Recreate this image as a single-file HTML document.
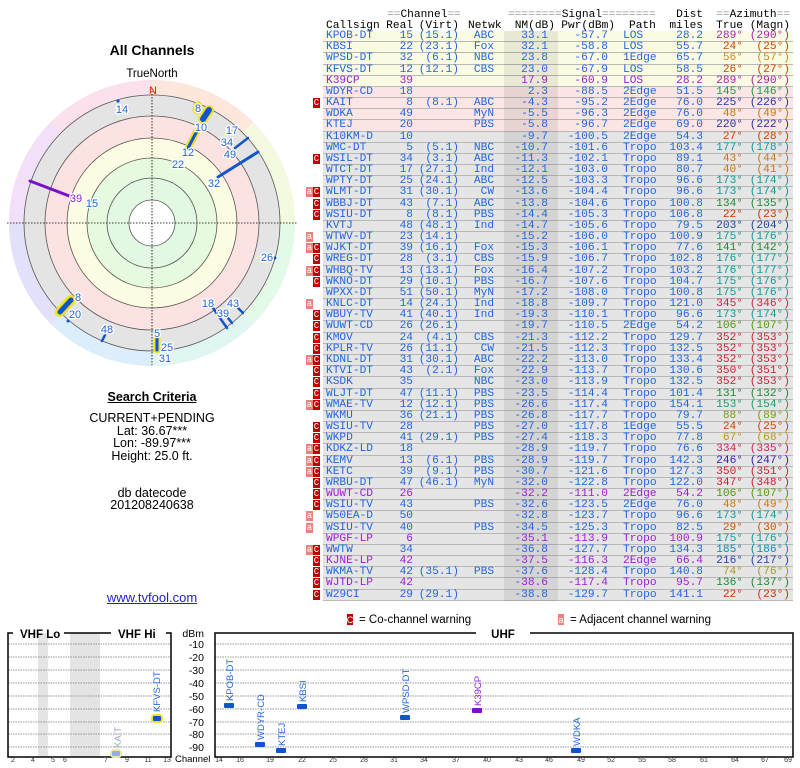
<!DOCTYPE html>
<html><head><meta charset="utf-8"><style>
body{margin:0;width:800px;height:768px;background:#fff;position:relative;overflow:hidden;font-family:"Liberation Sans",sans-serif}
.ab{position:absolute}
#tb{position:absolute;left:0;top:31px;width:800px;font-family:"Liberation Mono",monospace;font-size:11.2px;color:#2266dd}
.r{position:relative;height:11.18px;line-height:11.18px}
.r:before{content:"";position:absolute;left:323px;width:470px;top:0;height:10.18px;background:#e5e5e5;border-bottom:1px solid #b8b8b8}
.r:after{content:"";position:absolute;left:504px;width:54px;top:0;height:11.18px;background:rgba(0,0,0,0.07)}
.r.y:before{background:#fbfbe4}
.r.k:before{background:#fbe5e5}
.r span{position:absolute;top:0;white-space:pre;z-index:1}
.cs{left:326px}.re{right:387px}.vi{right:341px}.nw{left:466px;width:36px;text-align:center}
.nm{right:252px}.pw{right:192px}.pa{left:623px}.di{right:97px}.tr{right:57px}.mg{right:10px}
.r .C{left:313px;width:7px;height:10px;background:#c00000;color:#fff;font-size:9px;line-height:10px;text-align:center}
.r .A{left:306px;width:7px;height:10px;background:#f08080;color:#fff;font-size:9px;line-height:10px;text-align:center}
.p,.p span{color:#9a1fd6}
.hd{position:absolute;font-family:"Liberation Mono",monospace;font-size:11.2px;white-space:pre;color:#000;line-height:12px}
.hd i{color:#999;font-style:normal}
.ctr{position:absolute;left:0;width:304px;text-align:center;font-size:12.5px;color:#000}
</style></head><body>

<div class="hd" style="left:387px;top:9px"><i>==</i>Channel<i>==</i></div>
<div class="hd" style="left:508px;top:9px"><i>========</i>Signal<i>========</i></div>
<div class="hd" style="right:97px;top:9px">Dist</div>
<div class="hd" style="right:10px;top:9px"><i>==</i>Azimuth<i>==</i></div>
<div class="hd" style="left:326px;top:20px">Callsign</div>
<div class="hd" style="right:387px;top:20px">Real</div>
<div class="hd" style="right:341px;top:20px">(Virt)</div>
<div class="hd" style="left:468px;top:20px">Netwk</div>
<div class="hd" style="right:245px;top:20px">NM(dB)</div>
<div class="hd" style="right:185px;top:20px">Pwr(dBm)</div>
<div class="hd" style="left:629px;top:20px">Path</div>
<div class="hd" style="right:97px;top:20px">miles</div>
<div class="hd" style="right:57px;top:20px">True</div>
<div class="hd" style="right:10px;top:20px">(Magn)</div>

<div id="tb">
<div class="r y"><span class="cs">KPOB-DT</span><span class="re">15</span><span class="vi">(15.1)</span><span class="nw">ABC</span><span class="nm">33.1</span><span class="pw">-57.7</span><span class="pa">LOS</span><span class="di">28.2</span><span class="tr" style="color:#aa22aa">289°</span><span class="mg" style="color:#aa22aa">(290°)</span></div>
<div class="r y"><span class="cs">KBSI</span><span class="re">22</span><span class="vi">(23.1)</span><span class="nw">Fox</span><span class="nm">32.1</span><span class="pw">-58.8</span><span class="pa">LOS</span><span class="di">55.7</span><span class="tr" style="color:#cc4400">24°</span><span class="mg" style="color:#cc4400">(25°)</span></div>
<div class="r y"><span class="cs">WPSD-DT</span><span class="re">32</span><span class="vi">(6.1)</span><span class="nw">NBC</span><span class="nm">23.8</span><span class="pw">-67.0</span><span class="pa">1Edge</span><span class="di">65.7</span><span class="tr" style="color:#cc8822">56°</span><span class="mg" style="color:#cc8822">(57°)</span></div>
<div class="r y"><span class="cs">KFVS-DT</span><span class="re">12</span><span class="vi">(12.1)</span><span class="nw">CBS</span><span class="nm">23.0</span><span class="pw">-67.9</span><span class="pa">LOS</span><span class="di">58.5</span><span class="tr" style="color:#cc4400">26°</span><span class="mg" style="color:#cc4400">(27°)</span></div>
<div class="r y p"><span class="cs">K39CP</span><span class="re">39</span><span class="nm">17.9</span><span class="pw">-60.9</span><span class="pa">LOS</span><span class="di">28.2</span><span class="tr" style="color:#aa22aa">289°</span><span class="mg" style="color:#aa22aa">(290°)</span></div>
<div class="r k"><span class="cs">WDYR-CD</span><span class="re">18</span><span class="nm">2.3</span><span class="pw">-88.5</span><span class="pa">2Edge</span><span class="di">51.5</span><span class="tr" style="color:#229944">145°</span><span class="mg" style="color:#229944">(146°)</span></div>
<div class="r k"><span class="C">C</span><span class="cs">KAIT</span><span class="re">8</span><span class="vi">(8.1)</span><span class="nw">ABC</span><span class="nm">-4.3</span><span class="pw">-95.2</span><span class="pa">2Edge</span><span class="di">76.0</span><span class="tr" style="color:#2233aa">225°</span><span class="mg" style="color:#2233aa">(226°)</span></div>
<div class="r k"><span class="cs">WDKA</span><span class="re">49</span><span class="nw">MyN</span><span class="nm">-5.5</span><span class="pw">-96.3</span><span class="pa">2Edge</span><span class="di">76.0</span><span class="tr" style="color:#cc7711">48°</span><span class="mg" style="color:#cc7711">(49°)</span></div>
<div class="r k"><span class="cs">KTEJ</span><span class="re">20</span><span class="nw">PBS</span><span class="nm">-5.8</span><span class="pw">-96.7</span><span class="pa">2Edge</span><span class="di">69.0</span><span class="tr" style="color:#223399">220°</span><span class="mg" style="color:#223399">(222°)</span></div>
<div class="r"><span class="cs">K10KM-D</span><span class="re">10</span><span class="nm">-9.7</span><span class="pw">-100.5</span><span class="pa">2Edge</span><span class="di">54.3</span><span class="tr" style="color:#cc4400">27°</span><span class="mg" style="color:#cc4400">(28°)</span></div>
<div class="r"><span class="cs">WMC-DT</span><span class="re">5</span><span class="vi">(5.1)</span><span class="nw">NBC</span><span class="nm">-10.7</span><span class="pw">-101.6</span><span class="pa">Tropo</span><span class="di">103.4</span><span class="tr" style="color:#119999">177°</span><span class="mg" style="color:#119999">(178°)</span></div>
<div class="r"><span class="C">C</span><span class="cs">WSIL-DT</span><span class="re">34</span><span class="vi">(3.1)</span><span class="nw">ABC</span><span class="nm">-11.3</span><span class="pw">-102.1</span><span class="pa">Tropo</span><span class="di">89.1</span><span class="tr" style="color:#cc7711">43°</span><span class="mg" style="color:#cc7711">(44°)</span></div>
<div class="r"><span class="cs">WTCT-DT</span><span class="re">17</span><span class="vi">(27.1)</span><span class="nw">Ind</span><span class="nm">-12.1</span><span class="pw">-103.0</span><span class="pa">Tropo</span><span class="di">80.7</span><span class="tr" style="color:#cc7711">40°</span><span class="mg" style="color:#cc7711">(41°)</span></div>
<div class="r"><span class="cs">WPTY-DT</span><span class="re">25</span><span class="vi">(24.1)</span><span class="nw">ABC</span><span class="nm">-12.5</span><span class="pw">-103.3</span><span class="pa">Tropo</span><span class="di">96.6</span><span class="tr" style="color:#119999">173°</span><span class="mg" style="color:#119999">(174°)</span></div>
<div class="r"><span class="A">a</span><span class="C">C</span><span class="cs">WLMT-DT</span><span class="re">31</span><span class="vi">(30.1)</span><span class="nw">&nbsp;CW</span><span class="nm">-13.6</span><span class="pw">-104.4</span><span class="pa">Tropo</span><span class="di">96.6</span><span class="tr" style="color:#119999">173°</span><span class="mg" style="color:#119999">(174°)</span></div>
<div class="r"><span class="C">C</span><span class="cs">WBBJ-DT</span><span class="re">43</span><span class="vi">(7.1)</span><span class="nw">ABC</span><span class="nm">-13.8</span><span class="pw">-104.6</span><span class="pa">Tropo</span><span class="di">100.8</span><span class="tr" style="color:#228833">134°</span><span class="mg" style="color:#228833">(135°)</span></div>
<div class="r"><span class="C">C</span><span class="cs">WSIU-DT</span><span class="re">8</span><span class="vi">(8.1)</span><span class="nw">PBS</span><span class="nm">-14.4</span><span class="pw">-105.3</span><span class="pa">Tropo</span><span class="di">106.8</span><span class="tr" style="color:#cc3300">22°</span><span class="mg" style="color:#cc3300">(23°)</span></div>
<div class="r"><span class="cs">KVTJ</span><span class="re">48</span><span class="vi">(48.1)</span><span class="nw">Ind</span><span class="nm">-14.7</span><span class="pw">-105.6</span><span class="pa">Tropo</span><span class="di">79.5</span><span class="tr" style="color:#224499">203°</span><span class="mg" style="color:#224499">(204°)</span></div>
<div class="r"><span class="A">a</span><span class="cs">WTWV-DT</span><span class="re">23</span><span class="vi">(14.1)</span><span class="nm">-15.2</span><span class="pw">-106.0</span><span class="pa">Tropo</span><span class="di">100.9</span><span class="tr" style="color:#119999">175°</span><span class="mg" style="color:#119999">(176°)</span></div>
<div class="r"><span class="A">a</span><span class="C">C</span><span class="cs">WJKT-DT</span><span class="re">39</span><span class="vi">(16.1)</span><span class="nw">Fox</span><span class="nm">-15.3</span><span class="pw">-106.1</span><span class="pa">Tropo</span><span class="di">77.6</span><span class="tr" style="color:#228833">141°</span><span class="mg" style="color:#228833">(142°)</span></div>
<div class="r"><span class="C">C</span><span class="cs">WREG-DT</span><span class="re">28</span><span class="vi">(3.1)</span><span class="nw">CBS</span><span class="nm">-15.9</span><span class="pw">-106.7</span><span class="pa">Tropo</span><span class="di">102.8</span><span class="tr" style="color:#119999">176°</span><span class="mg" style="color:#119999">(177°)</span></div>
<div class="r"><span class="A">a</span><span class="C">C</span><span class="cs">WHBQ-TV</span><span class="re">13</span><span class="vi">(13.1)</span><span class="nw">Fox</span><span class="nm">-16.4</span><span class="pw">-107.2</span><span class="pa">Tropo</span><span class="di">103.2</span><span class="tr" style="color:#119999">176°</span><span class="mg" style="color:#119999">(177°)</span></div>
<div class="r"><span class="C">C</span><span class="cs">WKNO-DT</span><span class="re">29</span><span class="vi">(10.1)</span><span class="nw">PBS</span><span class="nm">-16.7</span><span class="pw">-107.6</span><span class="pa">Tropo</span><span class="di">104.7</span><span class="tr" style="color:#119999">175°</span><span class="mg" style="color:#119999">(176°)</span></div>
<div class="r"><span class="cs">WPXX-DT</span><span class="re">51</span><span class="vi">(50.1)</span><span class="nw">MyN</span><span class="nm">-17.2</span><span class="pw">-108.0</span><span class="pa">Tropo</span><span class="di">100.8</span><span class="tr" style="color:#119999">175°</span><span class="mg" style="color:#119999">(176°)</span></div>
<div class="r"><span class="A">a</span><span class="cs">KNLC-DT</span><span class="re">14</span><span class="vi">(24.1)</span><span class="nw">Ind</span><span class="nm">-18.8</span><span class="pw">-109.7</span><span class="pa">Tropo</span><span class="di">121.0</span><span class="tr" style="color:#cc2244">345°</span><span class="mg" style="color:#cc2244">(346°)</span></div>
<div class="r"><span class="C">C</span><span class="cs">WBUY-TV</span><span class="re">41</span><span class="vi">(40.1)</span><span class="nw">Ind</span><span class="nm">-19.3</span><span class="pw">-110.1</span><span class="pa">Tropo</span><span class="di">96.6</span><span class="tr" style="color:#119999">173°</span><span class="mg" style="color:#119999">(174°)</span></div>
<div class="r"><span class="C">C</span><span class="cs">WUWT-CD</span><span class="re">26</span><span class="vi">(26.1)</span><span class="nm">-19.7</span><span class="pw">-110.5</span><span class="pa">2Edge</span><span class="di">54.2</span><span class="tr" style="color:#559911">106°</span><span class="mg" style="color:#559911">(107°)</span></div>
<div class="r"><span class="C">C</span><span class="cs">KMOV</span><span class="re">24</span><span class="vi">(4.1)</span><span class="nw">CBS</span><span class="nm">-21.3</span><span class="pw">-112.2</span><span class="pa">Tropo</span><span class="di">129.7</span><span class="tr" style="color:#cc2233">352°</span><span class="mg" style="color:#cc2233">(353°)</span></div>
<div class="r"><span class="C">C</span><span class="cs">KPLR-TV</span><span class="re">26</span><span class="vi">(11.1)</span><span class="nw">&nbsp;CW</span><span class="nm">-21.5</span><span class="pw">-112.3</span><span class="pa">Tropo</span><span class="di">132.5</span><span class="tr" style="color:#cc2233">352°</span><span class="mg" style="color:#cc2233">(353°)</span></div>
<div class="r"><span class="A">a</span><span class="C">C</span><span class="cs">KDNL-DT</span><span class="re">31</span><span class="vi">(30.1)</span><span class="nw">ABC</span><span class="nm">-22.2</span><span class="pw">-113.0</span><span class="pa">Tropo</span><span class="di">133.4</span><span class="tr" style="color:#cc2233">352°</span><span class="mg" style="color:#cc2233">(353°)</span></div>
<div class="r"><span class="C">C</span><span class="cs">KTVI-DT</span><span class="re">43</span><span class="vi">(2.1)</span><span class="nw">Fox</span><span class="nm">-22.9</span><span class="pw">-113.7</span><span class="pa">Tropo</span><span class="di">130.6</span><span class="tr" style="color:#cc2233">350°</span><span class="mg" style="color:#cc2233">(351°)</span></div>
<div class="r"><span class="C">C</span><span class="cs">KSDK</span><span class="re">35</span><span class="nw">NBC</span><span class="nm">-23.0</span><span class="pw">-113.9</span><span class="pa">Tropo</span><span class="di">132.5</span><span class="tr" style="color:#cc2233">352°</span><span class="mg" style="color:#cc2233">(353°)</span></div>
<div class="r"><span class="C">C</span><span class="cs">WLJT-DT</span><span class="re">47</span><span class="vi">(11.1)</span><span class="nw">PBS</span><span class="nm">-23.5</span><span class="pw">-114.4</span><span class="pa">Tropo</span><span class="di">101.4</span><span class="tr" style="color:#228833">131°</span><span class="mg" style="color:#228833">(132°)</span></div>
<div class="r"><span class="A">a</span><span class="C">C</span><span class="cs">WMAE-TV</span><span class="re">12</span><span class="vi">(12.1)</span><span class="nw">PBS</span><span class="nm">-26.6</span><span class="pw">-117.4</span><span class="pa">Tropo</span><span class="di">154.1</span><span class="tr" style="color:#229966">153°</span><span class="mg" style="color:#229966">(154°)</span></div>
<div class="r"><span class="cs">WKMU</span><span class="re">36</span><span class="vi">(21.1)</span><span class="nw">PBS</span><span class="nm">-26.8</span><span class="pw">-117.7</span><span class="pa">Tropo</span><span class="di">79.7</span><span class="tr" style="color:#779911">88°</span><span class="mg" style="color:#779911">(89°)</span></div>
<div class="r"><span class="C">C</span><span class="cs">WSIU-TV</span><span class="re">28</span><span class="nw">PBS</span><span class="nm">-27.0</span><span class="pw">-117.8</span><span class="pa">1Edge</span><span class="di">55.5</span><span class="tr" style="color:#cc4400">24°</span><span class="mg" style="color:#cc4400">(25°)</span></div>
<div class="r"><span class="C">C</span><span class="cs">WKPD</span><span class="re">41</span><span class="vi">(29.1)</span><span class="nw">PBS</span><span class="nm">-27.4</span><span class="pw">-118.3</span><span class="pa">Tropo</span><span class="di">77.8</span><span class="tr" style="color:#bb9911">67°</span><span class="mg" style="color:#bb9911">(68°)</span></div>
<div class="r"><span class="A">a</span><span class="C">C</span><span class="cs">KDKZ-LD</span><span class="re">18</span><span class="nm">-28.9</span><span class="pw">-119.7</span><span class="pa">Tropo</span><span class="di">76.6</span><span class="tr" style="color:#cc2255">334°</span><span class="mg" style="color:#cc2255">(335°)</span></div>
<div class="r"><span class="A">a</span><span class="C">C</span><span class="cs">KEMV</span><span class="re">13</span><span class="vi">(6.1)</span><span class="nw">PBS</span><span class="nm">-28.9</span><span class="pw">-119.7</span><span class="pa">Tropo</span><span class="di">142.3</span><span class="tr" style="color:#3322aa">246°</span><span class="mg" style="color:#3322aa">(247°)</span></div>
<div class="r"><span class="A">a</span><span class="C">C</span><span class="cs">KETC</span><span class="re">39</span><span class="vi">(9.1)</span><span class="nw">PBS</span><span class="nm">-30.7</span><span class="pw">-121.6</span><span class="pa">Tropo</span><span class="di">127.3</span><span class="tr" style="color:#cc2233">350°</span><span class="mg" style="color:#cc2233">(351°)</span></div>
<div class="r"><span class="C">C</span><span class="cs">WRBU-DT</span><span class="re">47</span><span class="vi">(46.1)</span><span class="nw">MyN</span><span class="nm">-32.0</span><span class="pw">-122.8</span><span class="pa">Tropo</span><span class="di">122.0</span><span class="tr" style="color:#cc2233">347°</span><span class="mg" style="color:#cc2233">(348°)</span></div>
<div class="r p"><span class="C">C</span><span class="cs">WUWT-CD</span><span class="re">26</span><span class="nm">-32.2</span><span class="pw">-111.0</span><span class="pa">2Edge</span><span class="di">54.2</span><span class="tr" style="color:#559911">106°</span><span class="mg" style="color:#559911">(107°)</span></div>
<div class="r"><span class="C">C</span><span class="cs">WSIU-TV</span><span class="re">43</span><span class="nw">PBS</span><span class="nm">-32.6</span><span class="pw">-123.5</span><span class="pa">2Edge</span><span class="di">76.0</span><span class="tr" style="color:#cc7711">48°</span><span class="mg" style="color:#cc7711">(49°)</span></div>
<div class="r"><span class="A">a</span><span class="cs">W50EA-D</span><span class="re">50</span><span class="nm">-32.8</span><span class="pw">-123.7</span><span class="pa">Tropo</span><span class="di">96.6</span><span class="tr" style="color:#119999">173°</span><span class="mg" style="color:#119999">(174°)</span></div>
<div class="r"><span class="A">a</span><span class="cs">WSIU-TV</span><span class="re">40</span><span class="nw">PBS</span><span class="nm">-34.5</span><span class="pw">-125.3</span><span class="pa">Tropo</span><span class="di">82.5</span><span class="tr" style="color:#cc5500">29°</span><span class="mg" style="color:#cc5500">(30°)</span></div>
<div class="r p"><span class="cs">WPGF-LP</span><span class="re">6</span><span class="nm">-35.1</span><span class="pw">-113.9</span><span class="pa">Tropo</span><span class="di">100.9</span><span class="tr" style="color:#119999">175°</span><span class="mg" style="color:#119999">(176°)</span></div>
<div class="r"><span class="A">a</span><span class="C">C</span><span class="cs">WWTW</span><span class="re">34</span><span class="nm">-36.8</span><span class="pw">-127.7</span><span class="pa">Tropo</span><span class="di">134.3</span><span class="tr" style="color:#1188aa">185°</span><span class="mg" style="color:#1188aa">(186°)</span></div>
<div class="r p"><span class="C">C</span><span class="cs">KJNE-LP</span><span class="re">42</span><span class="nm">-37.5</span><span class="pw">-116.3</span><span class="pa">2Edge</span><span class="di">66.4</span><span class="tr" style="color:#2244aa">216°</span><span class="mg" style="color:#2244aa">(217°)</span></div>
<div class="r"><span class="C">C</span><span class="cs">WKMA-TV</span><span class="re">42</span><span class="vi">(35.1)</span><span class="nw">PBS</span><span class="nm">-37.6</span><span class="pw">-128.4</span><span class="pa">Tropo</span><span class="di">140.8</span><span class="tr" style="color:#aa9922">74°</span><span class="mg" style="color:#aa9922">(76°)</span></div>
<div class="r p"><span class="C">C</span><span class="cs">WJTD-LP</span><span class="re">42</span><span class="nm">-38.6</span><span class="pw">-117.4</span><span class="pa">Tropo</span><span class="di">95.7</span><span class="tr" style="color:#228833">136°</span><span class="mg" style="color:#228833">(137°)</span></div>
<div class="r"><span class="C">C</span><span class="cs">W29CI</span><span class="re">29</span><span class="vi">(29.1)</span><span class="nm">-38.8</span><span class="pw">-129.7</span><span class="pa">Tropo</span><span class="di">141.1</span><span class="tr" style="color:#cc3300">22°</span><span class="mg" style="color:#cc3300">(23°)</span></div>
</div>

<div class="ctr" style="top:42px;font-weight:bold;font-size:14px">All Channels</div>
<div class="ctr" style="top:68px;font-size:11.5px">TrueNorth</div>

<svg class="ab" style="left:0;top:0" width="310" height="380" font-family="Liberation Sans, sans-serif">
<g>
<circle cx="152" cy="223" r="143" fill="#f4e4f4"/>
<path d="M152 223 L152 80 A143 143 0 0 1 253 122 Z" fill="#fde6dc"/>
<path d="M152 223 L253 122 A143 143 0 0 1 295 223 Z" fill="#f4fae0"/>
<path d="M152 223 L295 223 A143 143 0 0 1 253 324 Z" fill="#e2fae6"/>
<path d="M152 223 L253 324 A143 143 0 0 1 152 366 Z" fill="#e0f6f2"/>
<path d="M152 223 L152 366 A143 143 0 0 1 51 324 Z" fill="#dceefc"/>
<path d="M152 223 L51 324 A143 143 0 0 1 9 223 Z" fill="#e2e0fa"/>
<path d="M152 223 L9 223 A143 143 0 0 1 51 122 Z" fill="#f2e0f8"/>
<path d="M152 223 L51 122 A143 143 0 0 1 152 80 Z" fill="#fce0ec"/>
</g>
<circle cx="152" cy="223" r="128" fill="#e4e4e4" stroke="#555" stroke-width="0.8"/>
<circle cx="152" cy="223" r="107" fill="#fde2e2" stroke="#555" stroke-width="0.8"/>
<circle cx="152" cy="223" r="85" fill="#fcfce2" stroke="#555" stroke-width="0.8"/>
<circle cx="152" cy="223" r="65" fill="#e6fae0" stroke="#555" stroke-width="0.8"/>
<circle cx="152" cy="223" r="45" fill="#e2f8e2" stroke="#555" stroke-width="0.8"/>
<circle cx="152" cy="223" r="23" fill="#fff" stroke="#555" stroke-width="0.8"/>
<line x1="7" y1="223" x2="297" y2="223" stroke="#000" stroke-dasharray="1.5,1.5" stroke-width="0.8"/>
<line x1="152" y1="88" x2="152" y2="365" stroke="#000" stroke-dasharray="1.5,1.5" stroke-width="0.8"/>
<text x="153" y="94" fill="#dd2200" font-size="11" text-anchor="middle">N</text>
<g stroke-linecap="round">
<line x1="198" y1="106" x2="197" y2="110" stroke="#f0e020" stroke-width="9"/>
<line x1="209" y1="110" x2="203" y2="119" stroke="#f0e020" stroke-width="10"/>
<line x1="209" y1="110" x2="203" y2="119" stroke="#1155cc" stroke-width="6"/>
<line x1="197" y1="131" x2="188" y2="148" stroke="#f0e020" stroke-width="7"/>
<line x1="197" y1="131" x2="188" y2="148" stroke="#1155cc" stroke-width="3"/>
<line x1="235" y1="148" x2="248" y2="138" stroke="#1155cc" stroke-width="2.5"/>
<line x1="218" y1="177" x2="258" y2="152" stroke="#1155cc" stroke-width="3"/>
<line x1="30" y1="181" x2="72" y2="197" stroke="#7a10cc" stroke-width="3"/>
<line x1="213" y1="308" x2="227" y2="328" stroke="#1155cc" stroke-width="2.5"/>
<line x1="238" y1="308" x2="243" y2="313" stroke="#1155cc" stroke-width="2.5"/>
<line x1="228" y1="318" x2="232" y2="323" stroke="#1155cc" stroke-width="2.5"/>
<line x1="71" y1="300" x2="60" y2="312" stroke="#f0e020" stroke-width="10"/>
<line x1="71" y1="300" x2="60" y2="312" stroke="#1155cc" stroke-width="5"/>
<line x1="105" y1="335" x2="102" y2="341" stroke="#1155cc" stroke-width="2.5"/>
<line x1="157" y1="338" x2="157" y2="350" stroke="#f0e020" stroke-width="7"/>
<line x1="157" y1="338" x2="157" y2="350" stroke="#1155cc" stroke-width="3"/>
<circle cx="118" cy="101" r="1.6" fill="#1155cc"/>
<circle cx="275" cy="258" r="1.5" fill="#1155cc"/>
<circle cx="68" cy="321" r="1.5" fill="#1155cc"/>
</g>
<g font-size="11" fill="#2266dd" text-anchor="middle" stroke="#fff" stroke-width="2.5" paint-order="stroke">
<text x="122" y="113">14</text><text x="198" y="112">8</text><text x="201" y="131">10</text>
<text x="188" y="156">12</text><text x="178" y="168">22</text><text x="232" y="134">17</text>
<text x="227" y="146">34</text><text x="230" y="158">49</text><text x="214" y="187">32</text>
<text x="76" y="202" fill="#8a1fd6">39</text><text x="92" y="207">15</text><text x="267" y="261">26</text>
<text x="208" y="307">18</text><text x="233" y="307">43</text><text x="223" y="317">39</text>
<text x="78" y="301">8</text><text x="75" y="318">20</text><text x="107" y="333">48</text>
<text x="157" y="337">5</text><text x="167" y="351">25</text><text x="165" y="362">31</text>
</g>
</svg>

<div class="ctr" style="top:390px;font-weight:bold;text-decoration:underline;font-size:12.5px">Search Criteria</div>
<div class="ctr" style="top:411px">CURRENT+PENDING</div>
<div class="ctr" style="top:424px">Lat: 36.67***</div>
<div class="ctr" style="top:436px">Lon: -89.97***</div>
<div class="ctr" style="top:449px">Height: 25.0 ft.</div>
<div class="ctr" style="top:486px">db datecode</div>
<div class="ctr" style="top:498px">201208240638</div>
<div class="ctr" style="top:590px;color:#2222cc;text-decoration:underline;font-size:13px">www.tvfool.com</div>

<svg class="ab" style="left:0;top:610px" width="800" height="158" font-family="Liberation Sans, sans-serif">
<rect x="347" y="4" width="6" height="11" fill="#c00000"/><text x="350" y="13" font-size="9" fill="#fff" text-anchor="middle">C</text>
<text x="359" y="13" font-size="11.5" fill="#000">= Co-channel warning</text>
<rect x="558" y="4" width="6" height="11" fill="#f08080"/><text x="561" y="13" font-size="9" fill="#fff" text-anchor="middle">a</text>
<text x="570" y="13" font-size="11.5" fill="#000">= Adjacent channel warning</text>
<rect x="38" y="23" width="10" height="124" fill="#e4e4e4"/>
<rect x="70" y="23" width="30" height="124" fill="#e4e4e4"/>
<g stroke="#777" stroke-dasharray="1.5,1" stroke-width="0.8">
<line x1="8" y1="34" x2="171" y2="34"/><line x1="8" y1="47" x2="171" y2="47"/><line x1="8" y1="60" x2="171" y2="60"/><line x1="8" y1="73" x2="171" y2="73"/><line x1="8" y1="86" x2="171" y2="86"/><line x1="8" y1="99" x2="171" y2="99"/><line x1="8" y1="112" x2="171" y2="112"/><line x1="8" y1="124" x2="171" y2="124"/><line x1="8" y1="137" x2="171" y2="137"/>
<line x1="215" y1="34" x2="793" y2="34"/><line x1="215" y1="47" x2="793" y2="47"/><line x1="215" y1="60" x2="793" y2="60"/><line x1="215" y1="73" x2="793" y2="73"/><line x1="215" y1="86" x2="793" y2="86"/><line x1="215" y1="99" x2="793" y2="99"/><line x1="215" y1="112" x2="793" y2="112"/><line x1="215" y1="124" x2="793" y2="124"/><line x1="215" y1="137" x2="793" y2="137"/>
</g>
<g fill="none" stroke="#000" stroke-width="1.5">
<polyline points="13,23 8,23 8,147 171,147 171,23 166,23"/>
<line x1="64" y1="23" x2="111" y2="23"/>
<polyline points="476,23 215,23 215,147 793,147 793,23 530,23"/>
</g>
<text x="20" y="28" font-size="11.5" font-weight="bold">VHF Lo</text>
<text x="118" y="28" font-size="11.5" font-weight="bold">VHF Hi</text>
<text x="503" y="28" font-size="11.5" font-weight="bold" text-anchor="middle">UHF</text>
<g font-size="10.5" text-anchor="end" fill="#000">
<text x="204" y="27">dBm</text><text x="204" y="38">-10</text><text x="204" y="51">-20</text><text x="204" y="64">-30</text><text x="204" y="77">-40</text><text x="204" y="90">-50</text><text x="204" y="103">-60</text><text x="204" y="116">-70</text><text x="204" y="128">-80</text><text x="204" y="141">-90</text>
</g>
<text x="175" y="152" font-size="9.5">Channel</text>
<g font-size="7" text-anchor="middle" fill="#333">
<text x="13" y="152">2</text><text x="33" y="152">4</text><text x="53" y="152">5</text><text x="65" y="152">6</text><text x="106" y="152">7</text><text x="127" y="152">9</text><text x="148" y="152">11</text><text x="167" y="152">13</text>
<text x="219" y="152">14</text><text x="240" y="152">16</text><text x="270" y="152">19</text><text x="302" y="152">22</text><text x="333" y="152">25</text><text x="364" y="152">28</text><text x="394" y="152">31</text><text x="424" y="152">34</text><text x="456" y="152">37</text><text x="487" y="152">40</text><text x="519" y="152">43</text><text x="549" y="152">46</text><text x="581" y="152">49</text><text x="611" y="152">52</text><text x="642" y="152">55</text><text x="672" y="152">58</text><text x="704" y="152">61</text><text x="735" y="152">64</text><text x="765" y="152">67</text><text x="788" y="152">69</text>
</g>
<rect x="110" y="139" width="12" height="9" rx="4" fill="#f3e7a0"/>
<rect x="112" y="141" width="8" height="5" rx="1" fill="#8fb0e0"/>
<rect x="151" y="104" width="12" height="9" rx="4" fill="#f0e020"/>
<rect x="153" y="106" width="8" height="5" rx="1" fill="#1155cc"/>
<g fill="#1155cc">
<rect x="224" y="93" width="10" height="5" rx="1"/>
<rect x="255" y="132" width="10" height="5" rx="1"/>
<rect x="276" y="138" width="10" height="5" rx="1"/>
<rect x="297" y="94" width="10" height="5" rx="1"/>
<rect x="400" y="105" width="10" height="5" rx="1"/>
<rect x="571" y="138" width="10" height="5" rx="1"/>
</g>
<rect x="472" y="98" width="10" height="5" rx="1" fill="#7a10cc"/>
<g font-size="9.5" fill="#2266dd">
<text transform="translate(121,138) rotate(-90)" fill="#9ab">KAIT</text>
<text transform="translate(160,102) rotate(-90)">KFVS-DT</text>
<text transform="translate(233,91) rotate(-90)">KPOB-DT</text>
<text transform="translate(264,130) rotate(-90)">WDYR-CD</text>
<text transform="translate(285,136) rotate(-90)">KTEJ</text>
<text transform="translate(306,92) rotate(-90)">KBSI</text>
<text transform="translate(409,103) rotate(-90)">WPSD-DT</text>
<text transform="translate(481,96) rotate(-90)" fill="#8a1fd6">K39CP</text>
<text transform="translate(580,136) rotate(-90)">WDKA</text>
</g>
</svg>
</body></html>
